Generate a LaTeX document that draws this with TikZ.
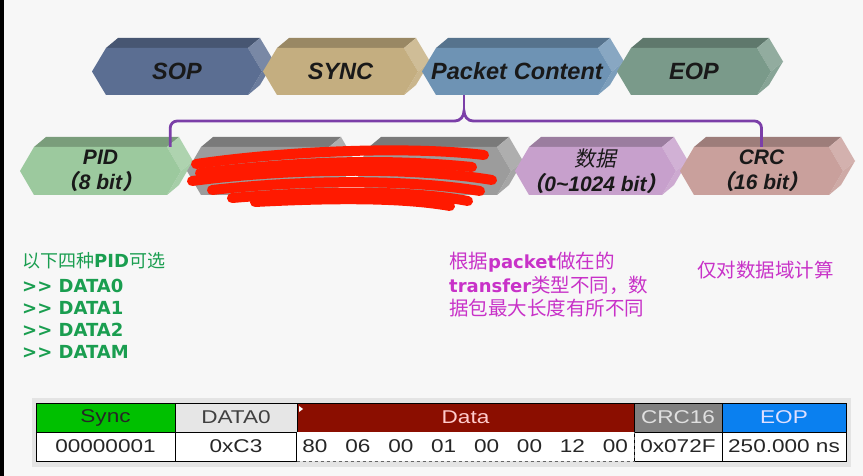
\documentclass[tikz,border=0pt]{standalone}
\usepackage{fontspec}
\usepackage{xcolor}
\setmainfont{Liberation Sans}
\newfontfamily\cjk{Noto Sans CJK SC}
\newfontfamily\cjkit[FakeSlant=0.2]{Noto Sans CJK SC}
\newfontfamily\verd{DejaVu Sans}
\newfontfamily\tabfont[FakeStretch=1.22]{Liberation Sans}

\definecolor{pagebg}{HTML}{F7F7F7}
\definecolor{sopc}{HTML}{5B6E92}
\definecolor{syncc}{HTML}{C4AE80}
\definecolor{pktc}{HTML}{6E93B4}
\definecolor{eopc}{HTML}{7A9A8A}
\definecolor{pidc}{HTML}{9CC99E}
\definecolor{hidc}{HTML}{9C9C9C}
\definecolor{datc}{HTML}{C7A0CC}
\definecolor{crcc}{HTML}{C9A09C}
\definecolor{bracec}{HTML}{7B3FA8}
\definecolor{pidgreen}{HTML}{1A9E50}
\definecolor{notepink}{HTML}{C832C8}
\definecolor{scrib}{HTML}{FF1A00}
\definecolor{tabframe}{HTML}{E4E4E4}
\definecolor{syncg}{HTML}{00C000}
\definecolor{pidg}{HTML}{E6E6E6}
\definecolor{datar}{HTML}{8B0E00}
\definecolor{crcg}{HTML}{808080}
\definecolor{eopb}{HTML}{0A80F0}

% name, left tip, right tip, top, bottom, colour, text
\newcommand{\chevron}[7]{%
  \pgfmathsetmacro{\chA}{#2+14}%
  \pgfmathsetmacro{\chB}{#3-14}%
  \pgfmathsetmacro{\chY}{(#4+#5)/2}%
  \fill[#6!78!black] (\chA,#4) -- ++(12,-10) -- (\chB+12,#4-10) -- (\chB,#4) -- cycle;
  \fill[#6!82!white] (\chB,#4) -- ++(12,-10) -- (#3+12,\chY-10) -- (#3,\chY) -- cycle;
  \fill[#6!90!white] (#3,\chY) -- ++(12,-10) -- (\chB+12,#5-10) -- (\chB,#5) -- cycle;
  \fill[#6] (#2,\chY) -- (\chA,#4) -- (\chB,#4) -- (#3,\chY) -- (\chB,#5) -- (\chA,#5) -- cycle;
  \node[chevtext, minimum width={(#3-#2)*1pt}, minimum height={(#5-#4)*1pt}] (#1) at ({(#2+#3)/2},\chY) {#7};
}

\begin{document}
\begin{tikzpicture}[x=1pt,y=-1pt]
\tikzset{chevtext/.style={inner sep=0, align=center, text=black!90, font=\bfseries\itshape\fontsize{23.5}{25}\selectfont}}
\tikzset{brace/.style={draw=bracec, line width=2.8pt}}
\tikzset{scribble/.style={draw=scrib, line width=10pt, line cap=round,
  preaction={draw=black!85, transform canvas={shift={(2pt,-3pt)}}}}}
\tikzset{pidtxt/.style={anchor=base west, inner sep=0, text=pidgreen, font=\verd\bfseries\fontsize{18}{22}\selectfont}}
\tikzset{notetxt/.style={anchor=base west, inner sep=0, text=notepink, font=\fontsize{19.5}{23}\selectfont}}
\tikzset{cell/.style={draw=black, line width=1pt, minimum height=29pt, inner sep=0, font=\tabfont\fontsize{18.5}{20}\selectfont}}

\useasboundingbox (0,0) rectangle (863,476);
\fill[pagebg] (0,0) rectangle (863,476);
\fill[black] (0,0) rectangle (4,476);

% packet fields
\chevron{sop}{92}{262}{48}{95}{sopc}{SOP}
\chevron{sync}{263}{418}{48}{95}{syncc}{SYNC}
\chevron{pc}{422}{612}{48}{95}{pktc}{Packet\hspace{7pt}Content}
\chevron{eop}{617}{771}{48}{95}{eopc}{EOP}

% content fields
\tikzset{chevtext/.append style={font=\bfseries\itshape\fontsize{21}{25}\selectfont}}
\chevron{pid}{20}{181}{147}{195}{pidc}{PID\\{\cjkit （}8 bit{\cjkit ）}}
\chevron{hid1}{187}{343}{147}{195}{hidc}{}
\chevron{hid2}{355}{511}{147}{195}{hidc}{}
\chevron{dat}{515}{676}{147}{195}{datc}{{\cjkit\mdseries 数据}\\{\cjkit （}0\textasciitilde 1024 bit{\cjkit ）}}
\chevron{crc}{680}{843}{147}{195}{crcc}{CRC\\{\cjkit （}16 bit{\cjkit ）}}

% scribbled out
\draw[scribble] (196,164) .. controls (300,149) and (420,147) .. (484,155);
\draw[scribble] (200,173) .. controls (320,159) and (400,160) .. (472,167);
\draw[scribble] (192,181) .. controls (300,167) and (420,168) .. (492,180);
\draw[scribble] (212,190) .. controls (320,178) and (420,181) .. (480,191);
\draw[scribble] (232,198) .. controls (340,189) and (420,192) .. (468,201);
\draw[scribble] (255,202) .. controls (350,197) and (410,199) .. (450,206);

% brace from Packet Content
\coordinate (bar) at (464,121);
\coordinate (tip) at (464,111);
\draw[brace] (tip |- pc.south) -- (tip);
\draw[brace, rounded corners=7pt] ([xshift=-11pt]pid.north east) |- ([xshift=-9pt]bar);
\draw[brace] ([xshift=-9pt]bar) to[out=0,in=-90] (tip) to[out=-90,in=180] ([xshift=9pt]bar);
\draw[brace, rounded corners=7pt] ([xshift=9pt]bar) -| (crc.north);

% notes
\node[pidtxt] (pidhead) at (22,268) {{\cjk\mdseries 以下四种}PID{\cjk\mdseries 可选}};
\foreach \d [count=\i] in {DATA0,DATA1,DATA2,DATAM}
  \node[pidtxt] (pid\d) at (22,{270+22*\i}) {>> \d};

\node[notetxt] (note1) at (449,269) {\cjk 根据{\verd\bfseries\fontsize{18}{22}\selectfont packet}做在的};
\node[notetxt] (note2) at (449,292) {{\verd\bfseries\fontsize{18}{22}\selectfont transfer}\cjk 类型不同，数};
\node[notetxt] (note3) at (449,315) {\cjk 据包最大长度有所不同};
\node[notetxt] (note4) at (697,277) {\cjk 仅对数据域计算};

% capture table
\fill[tabframe] (32,398) rectangle (851,467);
\foreach \nm/\cx/\w/\fc/\tc/\hd/\val in {
    sync/105.5/139/syncg/black!85/Sync/00000001,
    pidf/236/122/pidg/black!75/DATA0/0xC3,
    crcf/678/88/crcg/black!12/CRC16/0x072F,
    eopf/784/124/eopb/blue!12/EOP/250.000 ns} {
  \node[cell, fill=\fc, text=\tc, minimum width=\w pt] (h\nm) at (\cx,417.5) {\hd};
  \node[cell, fill=white, text=black!85, minimum width=\w pt] (v\nm) at (\cx,446.5) {\val};
}
\node[cell, fill=datar, text=red!20, minimum width=337pt] (hdata) at (465.5,417.5) {Data};
\fill[white] (299,406) -- (303,409) -- (299,412) -- cycle;
\node[cell, draw=none, fill=white, minimum width=337pt] (vdata) at (465.5,446.5) {};
\draw[black, line width=1pt] (vdata.north west) -- (vdata.south west);
\draw[black!60, dashed, line width=0.8pt] (vdata.south west) -- (vdata.south east) -- (vdata.north east);
\foreach \b [count=\i from 0] in {80,06,00,01,00,00,12,00}
  \node[inner sep=0, font=\tabfont\fontsize{18.5}{20}\selectfont, text=black!85] (byte\i) at ({315+42.9*\i},446.5) {\b};

\end{tikzpicture}
\end{document}
